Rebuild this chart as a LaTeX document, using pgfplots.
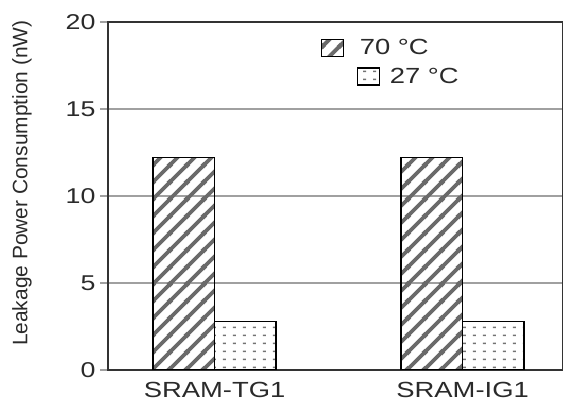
\documentclass[border=0pt]{standalone}
\usepackage{pgfplots}
\pgfplotsset{compat=1.18}
\usepackage{fontspec}
\setmainfont{Liberation Sans}
\usetikzlibrary{patterns}
\definecolor{stripe}{HTML}{6A6A6A}
\definecolor{dotc}{HTML}{737373}
\definecolor{gridc}{HTML}{A0A0A0}
\definecolor{axc}{HTML}{333333}
\definecolor{txt}{HTML}{2A2A2A}

\pgfdeclarepatternformonly{bighatch}{\pgfpointorigin}{\pgfpoint{17bp}{17bp}}{\pgfpoint{17bp}{17bp}}{%
  \pgfsetlinewidth{4bp}%
  \pgfpathmoveto{\pgfpoint{-2bp}{-2bp}}\pgfpathlineto{\pgfpoint{19bp}{19bp}}%
  \pgfpathmoveto{\pgfpoint{-2bp}{15bp}}\pgfpathlineto{\pgfpoint{2bp}{19bp}}%
  \pgfpathmoveto{\pgfpoint{15bp}{-2bp}}\pgfpathlineto{\pgfpoint{19bp}{2bp}}%
  \pgfusepath{stroke}}
\pgfdeclarepatternformonly{dotgrid}{\pgfpointorigin}{\pgfpoint{10bp}{8bp}}{\pgfpoint{10bp}{8bp}}{%
  \pgfpathrectangle{\pgfpoint{3.2bp}{3.2bp}}{\pgfpoint{3.2bp}{1.6bp}}\pgfusepath{fill}}

\pgfplotstableread{
x hot cold
0 12.2 2.8
1 12.2 2.8
}\leakdata

\begin{document}
\begin{tikzpicture}
\useasboundingbox (0,0) rectangle (563bp,403bp);
\begin{axis}[
  at={(108bp,33bp)}, anchor=south west,
  scale only axis, width=455bp, height=348bp,
  ymin=0, ymax=20, ytick={0,5,10,15,20},
  xmin=-0.43, xmax=1.405,
  xtick={0,1},
  xticklabels={\scalebox{1.25}[1]{SRAM-TG1},\scalebox{1.25}[1]{SRAM-IG1}},
  ybar=0pt, bar width=61.5bp,
  ymajorgrids, grid style={color=gridc, line width=1.4bp},
  major x tick style={draw=none},
  ytick style={color=gridc, line width=1.2bp},
  tick align=outside, major tick length=8bp,
  axis line style={color=axc, line width=1.4bp},
  /pgf/number format/assume math mode=true,
  yticklabel style={font=\fontsize{21.5}{24}\selectfont, text=txt, xshift=-1bp},
  yticklabel={\scalebox{1.25}[1]{\pgfmathprintnumber{\tick}}},
  xticklabel style={font=\fontsize{22}{25}\selectfont, text=txt, yshift=-1bp},
  ylabel={Leakage Power Consumption (nW)},
  ylabel style={at={(axis description cs:-0.189,0.537)}, anchor=center,
    font=\fontsize{21}{24}\selectfont, text=txt},
  legend style={at={(axis description cs:0.468,0.955)}, anchor=north west,
    draw=none, fill=none, inner sep=0pt, row sep=9bp,
    font=\fontsize{22}{25}\selectfont, text=txt,
    nodes={inner sep=1.5bp}},
  legend cell align=left,
]
\addplot[draw=black, line width=1.3bp, pattern=bighatch, pattern color=stripe,
  legend image code/.code={\draw[draw=black, line width=1.3bp, pattern=bighatch, pattern color=stripe] (0bp,-8.5bp) rectangle (22bp,8.5bp);}]
  table[x=x, y=hot] {\leakdata};
\addlegendentry{\hspace*{14bp}\scalebox{1.25}[1]{70 °C}}
\addplot[draw=black, line width=1.3bp, pattern=dotgrid, pattern color=dotc,
  legend image code/.code={\coordinate (lgA) at (0bp,-8.5bp);\coordinate (lgB) at (22bp,8.5bp);\draw[overlay, draw=black, line width=1.3bp, pattern=dotgrid, pattern color=dotc] (36bp,-8.5bp) rectangle (58bp,8.5bp);}]
  table[x=x, y=cold] {\leakdata};
\addlegendentry{\hspace*{44bp}\scalebox{1.25}[1]{27 °C}}
\end{axis}
\end{tikzpicture}
\end{document}
